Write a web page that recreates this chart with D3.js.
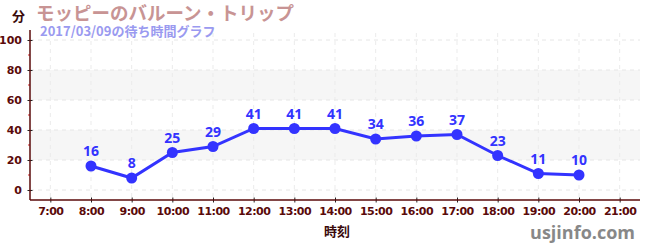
<!DOCTYPE html>
<html lang="ja">
<head>
<meta charset="UTF-8">
<script src="https://d3js.org/d3.v7.min.js"></script>
<style>
  body { margin: 0; background: #fff; }
  text { font-family: "Noto Sans CJK JP", "DejaVu Sans", sans-serif; }
</style>
</head>
<body>
<svg id="chart" width="650" height="250"></svg>
<script>
// data
var hours = [8, 9, 10, 11, 12, 13, 14, 15, 16, 17, 18, 19, 20];
var waits = [16, 8, 25, 29, 41, 41, 41, 34, 36, 37, 23, 11, 10];
var xTicks = [7, 8, 9, 10, 11, 12, 13, 14, 15, 16, 17, 18, 19, 20, 21];
var yTicks = [0, 20, 40, 60, 80, 100];
var yMinor = [10, 30, 50, 70, 90];
var bands = [[20, 40], [60, 80]];

var svg = d3.select("#chart");
var left = 30, right = 640, bottom = 200;

var x = d3.scaleLinear().domain([6.5, 21.5]).range([left, right]);
var y = d3.scaleLinear().domain([0, 100]).range([190, 40]);
var axisColor = "#5a0a0a";

// background bands
svg.selectAll("rect.band").data(bands).enter().append("rect")
    .attr("x", left).attr("width", right - left)
    .attr("y", d => y(d[1])).attr("height", d => y(d[0]) - y(d[1]))
    .attr("fill", "#f6f6f6");

// grid
svg.selectAll("line.hg").data(yTicks).enter().append("line")
    .attr("x1", left).attr("x2", right)
    .attr("y1", d => y(d)).attr("y2", d => y(d))
    .attr("stroke", "#e6e6e6").attr("stroke-dasharray", "4,4");
svg.selectAll("line.vg").data(xTicks).enter().append("line")
    .attr("x1", d => x(d)).attr("x2", d => x(d))
    .attr("y1", 33).attr("y2", bottom)
    .attr("stroke", "#ebebeb").attr("stroke-dasharray", "4,4");

// y axis
var yAxis = svg.append("g").attr("transform", "translate(" + left + ",0)")
    .call(d3.axisLeft(y).tickValues(yTicks).tickSize(5).tickSizeOuter(0).tickPadding(3));
yAxis.select(".domain").remove();
yAxis.selectAll("line").attr("stroke", "#222").attr("transform", "translate(2.5,0)");
yAxis.selectAll("text").attr("fill", axisColor).style("font-size", "11px").style("font-weight", "bold")
    .style("font-family", "DejaVu Sans, sans-serif");
svg.selectAll("line.ym").data(yMinor).enter().append("line")
    .attr("x1", left - 2).attr("x2", left).attr("y1", d => y(d)).attr("y2", d => y(d))
    .attr("stroke", "#dd2222");
svg.append("line").attr("x1", left).attr("x2", left).attr("y1", 30).attr("y2", bottom)
    .attr("stroke", axisColor).attr("stroke-width", 1.5);

// x axis
var xAxis = svg.append("g").attr("transform", "translate(0," + bottom + ")")
    .call(d3.axisBottom(x).tickValues(xTicks).tickFormat(d => d + ":00").tickSize(5).tickSizeOuter(0).tickPadding(2));
xAxis.select(".domain").remove();
xAxis.selectAll("line").attr("stroke", "#222").attr("transform", "translate(0,-2.5)");
xAxis.selectAll("text").attr("fill", axisColor).style("font-size", "11px").style("font-weight", "bold")
    .style("font-family", "DejaVu Sans, sans-serif").style("letter-spacing", "-0.5px");
svg.append("line").attr("x1", left).attr("x2", right).attr("y1", bottom).attr("y2", bottom)
    .attr("stroke", axisColor).attr("stroke-width", 1.5);

// line + points
var pts = hours.map((h, i) => [h, waits[i]]);
svg.append("path").datum(pts)
    .attr("d", d3.line().x(d => x(d[0])).y(d => y(d[1])))
    .attr("fill", "none").attr("stroke", "#3333ff").attr("stroke-width", 3);
svg.selectAll("circle.pt").data(pts).enter().append("circle")
    .attr("cx", d => x(d[0])).attr("cy", d => y(d[1])).attr("r", 5.5)
    .attr("fill", "#3333ff");
svg.selectAll("text.lbl").data(pts).enter().append("text")
    .attr("x", d => x(d[0])).attr("y", d => y(d[1]) - 10)
    .attr("text-anchor", "middle").attr("fill", "#3333ff")
    .style("font-size", "14px").style("font-weight", "bold")
    .style("font-family", "Noto Sans, sans-serif")
    .text(d => d[1]);

// titles
svg.append("text").attr("x", 36).attr("y", 19.5).text("モッピーのバルーン・トリップ")
    .attr("fill", "#c89494").style("font-size", "18.5px").style("font-weight", "bold");
svg.append("text").attr("x", 40).attr("y", 35.5).text("2017/03/09の待ち時間グラフ")
    .attr("fill", "#9a9af0").style("font-size", "13px").style("font-weight", "bold");
svg.append("text").attr("x", 12).attr("y", 21).text("分")
    .attr("fill", "#3a0a0a").style("font-size", "13px").style("font-weight", "bold");
svg.append("text").attr("x", 337).attr("y", 236).attr("text-anchor", "middle").text("時刻")
    .attr("fill", "#3a0a0a").style("font-size", "13px").style("font-weight", "bold");
svg.append("text").attr("x", 635).attr("y", 239).attr("text-anchor", "end").text("usjinfo.com")
    .attr("fill", "#888").style("font-size", "18px").style("font-weight", "bold")
    .style("font-family", "Open Sans, sans-serif");
</script>
</body>
</html>
